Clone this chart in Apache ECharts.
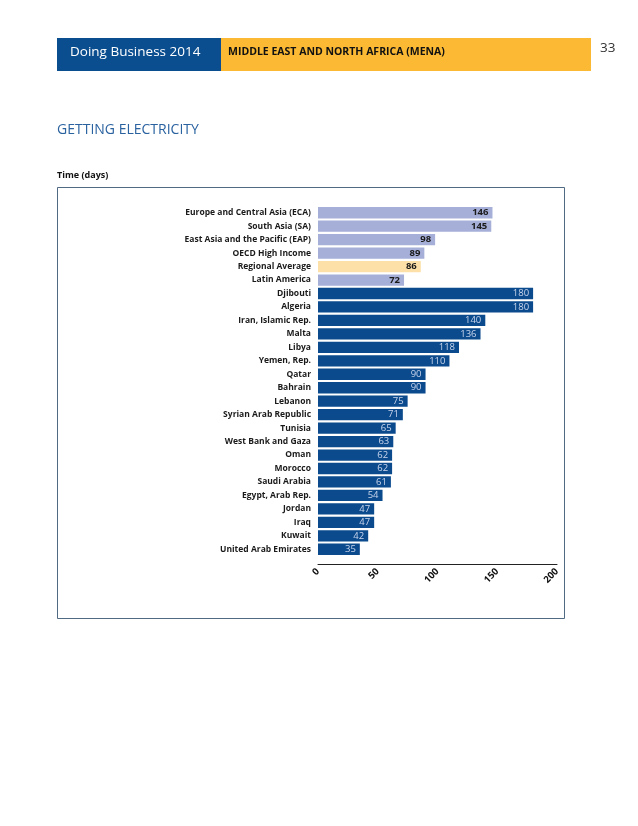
<!DOCTYPE html>
<html>
<head>
<meta charset="utf-8">
<script src="https://cdn.jsdelivr.net/npm/echarts@6/dist/echarts.min.js"></script>
<style>
  html, body { margin: 0; padding: 0; background: #fff; }
  #chart { width: 638px; height: 826px; }
</style>
</head>
<body>
<div id="chart"></div>
<script>
// comparison economies / regions (light bars)
const compNames = ["Europe and Central Asia (ECA)", "South Asia (SA)", "East Asia and the Pacific (EAP)", "OECD High Income", "Regional Average", "Latin America"];
const compValues = [146, 145, 98, 89, 86, 72];
// MENA economies (dark bars)
const menaNames = ["Djibouti", "Algeria", "Iran, Islamic Rep.", "Malta", "Libya", "Yemen, Rep.", "Qatar", "Bahrain", "Lebanon", "Syrian Arab Republic", "Tunisia", "West Bank and Gaza", "Oman", "Morocco", "Saudi Arabia", "Egypt, Arab Rep.", "Jordan", "Iraq", "Kuwait", "United Arab Emirates"];
const menaValues = [180, 180, 140, 136, 118, 110, 90, 90, 75, 71, 65, 63, 62, 62, 61, 54, 47, 47, 42, 35];
const xTicks = [0, 50, 100, 150, 200];

const FONT = "Open Sans";
const categories = compNames.concat(menaNames);

const barData = [];
compValues.forEach((v, i) => {
  const isAvg = compNames[i] === "Regional Average";
  barData.push({
    value: v,
    itemStyle: { color: isAvg ? "#FDDFA8" : "#A6AFD8" },
    label: { color: "#1a1a1a", fontWeight: "bold" }
  });
});
menaValues.forEach(v => {
  barData.push({
    value: v,
    itemStyle: { color: "#0B4A8D" },
    label: { color: "#C9D5EC", fontWeight: "normal" }
  });
});

const chart = echarts.init(document.getElementById("chart"));

const option = {
  backgroundColor: "#fff",
  animation: false,
  textStyle: { fontFamily: FONT },
  grid: { left: 318, right: 81, top: 206, bottom: 270, containLabel: false },
  xAxis: {
    type: "value",
    min: xTicks[0],
    max: xTicks[xTicks.length - 1],
    interval: 50,
    offset: 8,
    axisLine: { show: true, lineStyle: { color: "#222", width: 1 } },
    axisTick: { show: false },
    splitLine: { show: false },
    axisLabel: {
      rotate: 45,
      margin: 6,
      fontSize: 9.5,
      fontWeight: "bold",
      color: "#111",
      fontFamily: FONT
    }
  },
  yAxis: {
    type: "category",
    data: categories,
    inverse: true,
    axisLine: { show: false },
    axisTick: { show: false },
    axisLabel: {
      margin: 7,
      fontSize: 8.5,
      fontWeight: "bold",
      color: "#1a1a1a",
      fontFamily: FONT
    }
  },
  series: [{
    type: "bar",
    data: barData,
    barCategoryGap: "16%",
    label: {
      show: true,
      position: "insideRight",
      distance: 4,
      fontSize: 9.5,
      fontFamily: FONT
    }
  }],
  graphic: [
    // header band
    { type: "rect", shape: { x: 57, y: 38, width: 164, height: 33 }, style: { fill: "#0B4E8F" } },
    { type: "rect", shape: { x: 221, y: 38, width: 370, height: 33 }, style: { fill: "#FBB934" } },
    { type: "text", left: 70, top: 45, style: { text: "Doing Business 2014", fill: "#fff", fontSize: 13.5, fontFamily: FONT } },
    { type: "text", left: 228, top: 47, style: { text: "MIDDLE EAST AND NORTH AFRICA (MENA)", fill: "#111", fontSize: 10.5, fontWeight: "bold", fontFamily: FONT } },
    { type: "text", left: 600, top: 41, style: { text: "33", fill: "#333", fontSize: 13.5, fontFamily: FONT } },
    // section title
    { type: "text", left: 57, top: 123, style: { text: "GETTING ELECTRICITY", fill: "#2A62A0", fontSize: 14, fontFamily: FONT } },
    { type: "text", left: 57, top: 171, style: { text: "Time (days)", fill: "#111", fontSize: 9, fontWeight: "bold", fontFamily: FONT } },
    // chart frame
    { type: "rect", z: -1, shape: { x: 57.5, y: 187.5, width: 507, height: 431 }, style: { fill: "none", stroke: "#4F6A82", lineWidth: 1 } }
  ]
};

chart.setOption(option);
</script>
</body>
</html>
